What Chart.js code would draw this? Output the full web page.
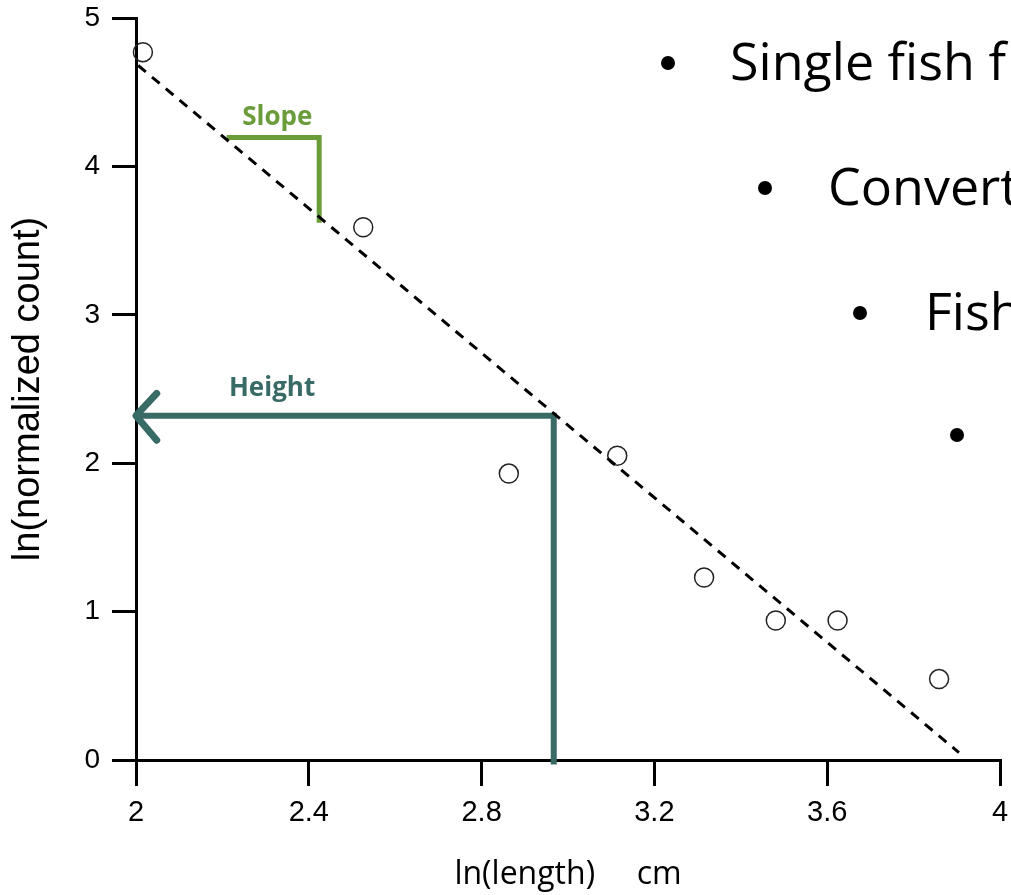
<!DOCTYPE html>
<html>
<head>
<meta charset="utf-8">
<script src="https://cdn.jsdelivr.net/npm/chart.js@4/dist/chart.umd.min.js"></script>
<style>
  body { margin: 0; background: #fff; }
  #wrap { width: 1011px; height: 895px; position: relative; }
</style>
</head>
<body>
<div id="wrap"><canvas id="chart"></canvas></div>
<script>
// observed points
const lnLength = [2.016, 2.526, 2.863, 3.114, 3.315, 3.481, 3.624, 3.859];
const lnCount = [4.77, 3.59, 1.93, 2.05, 1.23, 0.94, 0.94, 0.545];

// fitted line ends
const fitX = [2.005, 3.905];
const fitY = [4.68, 0.05];

// slope marker (data coords)
const slopeX = [2.21, 2.424, 2.424];
const slopeY = [4.195, 4.195, 3.62];

// height marker + arrowhead (data coords)
const heightX = [2.967, 2.967, 2.0];
const heightY = [-0.03, 2.32, 2.32];
const arrowX = [2.048, 2.0, 2.048];
const arrowY = [2.47, 2.32, 2.155];

const xTicks = [2, 2.4, 2.8, 3.2, 3.6, 4];
const yTicks = [0, 1, 2, 3, 4, 5];

const bullets = ['Single fish f', 'Convert', 'Fish', ''];

const green = '#6a9c3a';
const teal = '#386a66';

const pts = (xs, ys) => xs.map((x, i) => ({ x: x, y: ys[i] }));

Chart.defaults.font.family = '"Liberation Sans", Arial, sans-serif';
Chart.defaults.color = '#000';

// labels + slide text drawn on top
const overlay = {
  id: 'overlay',
  afterDatasetsDraw(chart) {
    const c = chart.ctx;
    const xs = chart.scales.x, ys = chart.scales.y;
    c.save();
    c.textAlign = 'center';
    c.textBaseline = 'middle';
    c.font = 'bold 26px "Open Sans", sans-serif';
    c.fillStyle = green;
    c.fillText('Slope', xs.getPixelForValue(2.327), ys.getPixelForValue(4.33));
    c.fillStyle = teal;
    c.fillText('Height', xs.getPixelForValue(2.315), ys.getPixelForValue(2.5));

    // bullet list (cut off at the right edge)
    const rows = [[668, 730, 65], [765, 828, 190], [860, 925, 315], [957, 1020, 437]];
    c.textAlign = 'left';
    c.font = '52px "Open Sans", sans-serif';
    c.fillStyle = '#000';
    rows.forEach((r, i) => {
      c.beginPath();
      c.arc(r[0], r[2] - 2, 7, 0, Math.PI * 2);
      c.fill();
      if (bullets[i]) c.fillText(bullets[i], r[1], r[2]);
    });
    c.restore();
  }
};

new Chart(document.getElementById('chart'), {
  type: 'scatter',
  data: {
    datasets: [
      {
        data: pts(fitX, fitY), showLine: true, borderColor: '#000', borderWidth: 3,
        borderDash: [10, 8], pointRadius: 0, clip: false
      },
      {
        data: pts(lnLength, lnCount), pointRadius: 9.5, borderWidth: 1.5,
        borderColor: '#222', backgroundColor: 'rgba(255,255,255,0)', clip: false
      },
      {
        data: pts(slopeX, slopeY), showLine: true, borderColor: green, borderWidth: 5,
        borderCapStyle: 'butt', borderJoinStyle: 'miter', pointRadius: 0, clip: false
      },
      {
        data: pts(heightX, heightY), showLine: true, borderColor: teal, borderWidth: 6,
        borderCapStyle: 'butt', borderJoinStyle: 'miter', pointRadius: 0, clip: false
      },
      {
        data: pts(arrowX, arrowY), showLine: true, borderColor: teal, borderWidth: 7,
        borderCapStyle: 'round', borderJoinStyle: 'round', pointRadius: 0, clip: false
      }
    ]
  },
  options: {
    responsive: true,
    maintainAspectRatio: false,
    animation: false,
    layout: { padding: { top: 18, right: 8, left: 0, bottom: 0 } },
    plugins: { legend: { display: false }, tooltip: { enabled: false } },
    scales: {
      x: {
        min: 2, max: 4,
        afterBuildTicks: s => { s.ticks = xTicks.map(v => ({ value: v })); },
        afterFit: s => { s.height = 135; s.paddingLeft = 0; s.paddingRight = 0; },
        ticks: { font: { size: 29 }, padding: 10, maxRotation: 0, autoSkip: false, callback: v => String(v) },
        grid: { drawOnChartArea: false, drawTicks: true, tickLength: 26, color: '#000', lineWidth: 3 },
        border: { display: true, color: '#000', width: 3 },
        title: {
          display: true, text: 'ln(length)     cm',
          font: { size: 32, family: '"Open Sans", sans-serif' }, padding: { top: 0, bottom: 1 }
        }
      },
      y: {
        min: 0, max: 5,
        afterBuildTicks: s => { s.ticks = yTicks.map(v => ({ value: v })); },
        afterFit: s => { s.width = 136; s.paddingTop = 0; s.paddingBottom = 0; },
        ticks: { font: { size: 28 }, padding: 12, autoSkip: false },
        grid: { drawOnChartArea: false, drawTicks: true, tickLength: 24, color: '#000', lineWidth: 3 },
        border: { display: true, color: '#000', width: 3 },
        title: {
          display: true, text: 'ln(normalized count)',
          font: { size: 38 }, padding: { top: 6, bottom: 0 }
        }
      }
    }
  },
  plugins: [overlay]
});
</script>
</body>
</html>
